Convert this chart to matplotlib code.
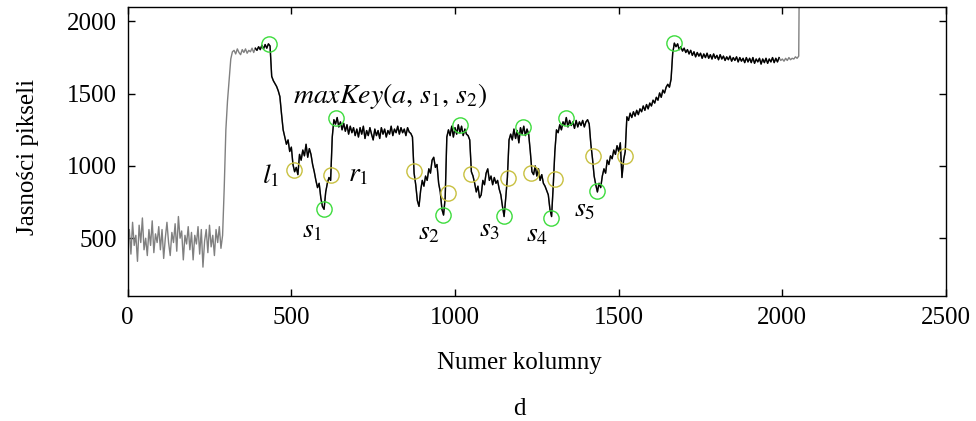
import matplotlib
matplotlib.use("Agg")
import matplotlib.pyplot as plt
import numpy as np

plt.rcParams['font.family'] = ['Liberation Serif', 'DejaVu Serif']
plt.rcParams['mathtext.fontset'] = 'stix'

# ---- data (column number, pixel brightness) ----
columns = list(range(0, 2055, 5)) + [2052, 2054]
brightness = [
    # 0-95
    480, 560, 390, 610, 450, 520, 340, 590, 470, 640, 420, 500, 380, 560, 450, 620, 400, 530, 470, 580,
    # 100-195
    420, 560, 360, 500, 610, 470, 380, 540, 470, 600, 410, 650, 500, 550, 350, 520, 460, 580, 420, 540,
    # 200-295
    350, 520, 460, 580, 390, 560, 300, 480, 560, 400, 590, 440, 520, 380, 560, 470, 580, 430, 520, 850,
    # 300-395
    1250, 1450, 1600, 1740, 1790, 1800, 1775, 1810, 1785, 1770, 1805, 1785, 1810, 1780, 1800, 1790, 1815, 1785, 1815, 1800,
    # 400-495
    1825, 1805, 1835, 1810, 1840, 1815, 1845, 1830, 1620, 1590, 1570, 1550, 1520, 1480, 1360, 1250, 1200, 1150, 1180, 1100,
    # 500-595
    1130, 1010, 960, 990, 940, 1080, 1040, 1110, 1070, 1150, 1060, 1120, 1080, 1010, 960, 900, 850, 880, 780, 720,
    # 600-695
    700, 820, 880, 920, 900, 1200, 1320, 1290, 1335, 1270, 1305, 1250, 1295, 1240, 1285, 1220, 1275, 1230, 1265, 1210,
    # 700-795
    1255, 1200, 1265, 1220, 1275, 1190, 1245, 1210, 1265, 1220, 1180, 1255, 1210, 1245, 1190, 1265, 1220, 1255, 1200, 1245,
    # 800-895
    1220, 1275, 1210, 1255, 1230, 1275, 1220, 1265, 1230, 1255, 1210, 1265, 1235, 1225, 1200, 950, 870, 760, 720, 830,
    # 900-995
    900, 860, 930, 900, 980, 950, 1040, 1060, 990, 1010, 880, 820, 700, 660, 780, 1200, 1250, 1210, 1275, 1200,
    # 1000-1095
    1265, 1220, 1285, 1230, 1275, 1210, 1255, 1220, 1210, 1180, 960, 930, 880, 820, 860, 780, 800, 900, 870, 950,
    # 1100-1195
    980, 900, 930, 870, 920, 880, 900, 840, 800, 720, 650, 780, 920, 1180, 1220, 1180, 1255, 1190, 1245, 1160,
    # 1200-1295
    1265, 1220, 1275, 1210, 1255, 1220, 1100, 960, 940, 1000, 930, 980, 900, 940, 880, 860, 830, 800, 700, 650,
    # 1300-1395
    860, 1100, 1250, 1230, 1285, 1250, 1305, 1280, 1335, 1270, 1315, 1280, 1305, 1260, 1315, 1270, 1305, 1280, 1315, 1270,
    # 1400-1495
    1305, 1320, 1290, 1150, 1050, 930, 870, 820, 880, 850, 930, 980, 950, 1040, 1010, 1070, 1050, 1110, 1080, 1140,
    # 1500-1595
    1100, 1160, 920, 1040, 1100, 1340, 1315, 1365, 1335, 1375, 1345, 1385, 1355, 1395, 1375, 1415, 1385, 1425, 1395, 1435,
    # 1600-1695
    1415, 1455, 1435, 1475, 1455, 1505, 1475, 1525, 1505, 1545, 1565, 1545, 1600, 1780, 1850, 1825, 1845, 1805, 1825, 1795,
    # 1700-1795
    1815, 1785, 1805, 1775, 1800, 1765, 1790, 1755, 1785, 1760, 1780, 1745, 1775, 1750, 1780, 1745, 1770, 1740, 1775, 1745,
    # 1800-1895
    1765, 1735, 1770, 1740, 1760, 1730, 1755, 1735, 1760, 1725, 1750, 1730, 1755, 1720, 1750, 1725, 1745, 1715, 1750, 1720,
    # 1900-1995
    1745, 1715, 1750, 1710, 1740, 1720, 1745, 1705, 1740, 1715, 1745, 1710, 1740, 1720, 1750, 1715, 1745, 1720, 1750, 1730,
    # 2000-2050
    1740, 1725, 1745, 1730, 1750, 1735, 1745, 1740, 1755, 1745, 1760,
    # final jump past the top of the plot
    2400, 2400,
]
black_start, black_end = 390, 1990

# key points (green) and side points (yellow)
key_cols = [432, 599, 636, 963, 1015, 1149, 1209, 1294, 1340, 1433, 1670]
key_vals = [1845, 700, 1333, 659, 1280, 652, 1271, 640, 1333, 825, 1852]
side_cols = [508, 622, 875, 978, 1050, 1162, 1233, 1304, 1421, 1518]
side_vals = [975, 940, 963, 813, 947, 917, 952, 910, 1067, 1067]

labels = [r'$l_1$', r'$r_1$', r'$s_1$', r'$s_2$', r'$s_3$', r'$s_4$', r'$s_5$']
label_cols = [437, 703, 565, 920, 1106, 1252, 1395]
label_vals = [933, 935, 550, 535, 556, 525, 698]
max_label = r'$maxKey(a,\,s_1,\,s_2)$'
max_label_pos = (505, 1485)

x_ticks = [0, 500, 1000, 1500, 2000, 2500]
y_ticks = [500, 1000, 1500, 2000]

# ---- figure ----
fig = plt.figure(figsize=(9.76, 4.21), dpi=100)
ax = fig.add_axes([0.1308, 0.2969, 0.9693 - 0.1308, 0.9834 - 0.2969])

cols = np.array(columns)
vals = np.array(brightness)

ax.plot(cols, vals, color='#808080', lw=1.0)
m = (cols >= black_start) & (cols <= black_end)
ax.plot(cols[m], vals[m], color='black', lw=1.0)

ax.plot(key_cols, key_vals, 'o', ms=11, mfc='none', mec='#3ddc3d', mew=1.0)
ax.plot(side_cols, side_vals, 'o', ms=11, mfc='none', mec='#c8c040', mew=1.0)

for t, xc, yc in zip(labels, label_cols, label_vals):
    ax.text(xc, yc, t, fontsize=20, ha='center', va='center')
ax.text(max_label_pos[0], max_label_pos[1], max_label, fontsize=20,
        ha='left', va='center')

ax.set_xlim(0, 2500)
ax.set_ylim(100, 2100)
ax.set_xticks(x_ticks)
ax.set_yticks(y_ticks)
ax.tick_params(labelsize=18, direction='in', length=5, width=1,
               top=True, right=True, pad=8)
for s in ax.spines.values():
    s.set_linewidth(1.0)

ax.set_xlabel('Numer kolumny', fontsize=18)
ax.xaxis.set_label_coords(0.479, -0.195)
ax.set_ylabel('Jasności pikseli', fontsize=18)
ax.yaxis.set_label_coords(-0.108, 0.48)
fig.text(0.532, 0.028, 'd', fontsize=18, ha='center', va='center')

fig.savefig('out.png', dpi=100)
